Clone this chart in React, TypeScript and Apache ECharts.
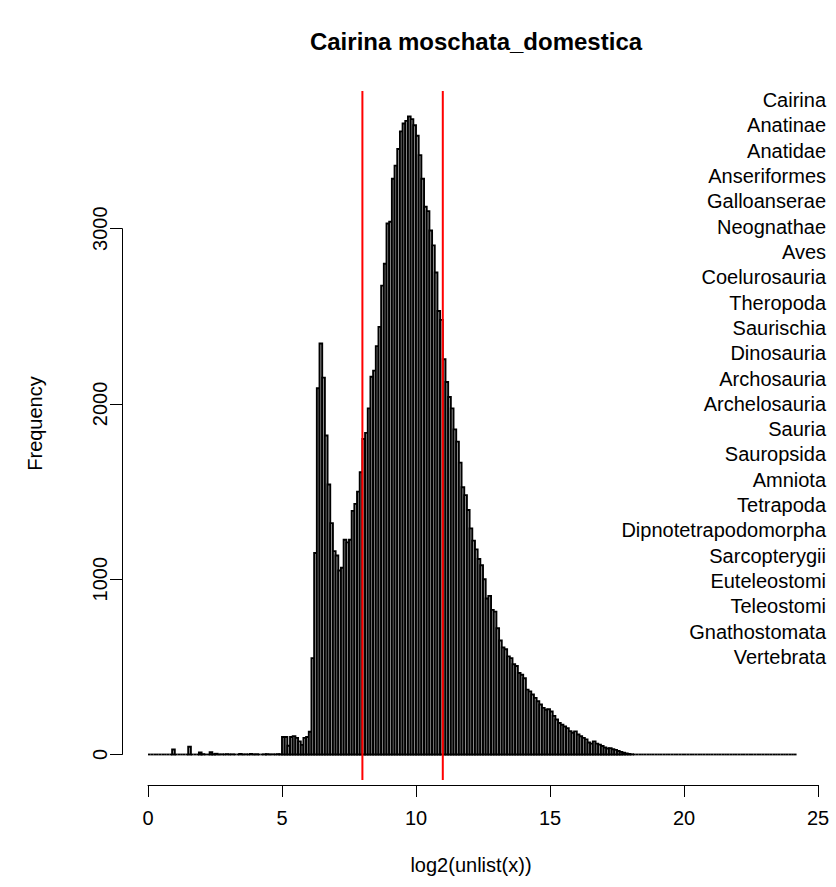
import React, { useEffect, useRef } from "react";
import * as echarts from "echarts";

// ---- data ----
const chartTitle = "Cairina moschata_domestica";
const xAxisTitle = "log2(unlist(x))";
const yAxisTitle = "Frequency";
const binStart = 0;
const binWidth = 0.1;
// histogram counts, one per 0.1-wide bin starting at 0
const counts = [
  0, 0, 0, 0, 0, 0, 0, 0, 0, 28,
  0, 0, 0, 0, 0, 44, 0, 0, 0, 11,
  2, 0, 0, 13, 2, 4, 0, 1, 0, 2,
  0, 1, 0, 0, 3, 0, 1, 0, 3, 0,
  1, 0, 0, 1, 2, 0, 1, 0, 2, 1,
  100, 100, 50, 100, 105, 95, 75, 55, 95, 100,
  130, 550, 1150, 2090, 2345, 2150, 1820, 1540, 1320, 1160,
  1135, 1050, 1065, 1225, 1210, 1225, 1390, 1430, 1500, 1610,
  1800, 1835, 1975, 2155, 2190, 2330, 2440, 2675, 2800, 3030,
  3040, 3285, 3360, 3455, 3555, 3600, 3615, 3640, 3625, 3590,
  3530, 3420, 3285, 3125, 3100, 2990, 2905, 2750, 2530, 2480,
  2255, 2125, 2040, 1975, 1855, 1785, 1665, 1525, 1480, 1395,
  1290, 1220, 1170, 1115, 1080, 1000, 890, 905, 825, 815,
  720, 650, 610, 600, 560, 550, 515, 505, 465, 455,
  435, 370, 360, 342, 323, 304, 285, 266, 255, 258,
  245, 220, 200, 180, 170, 160, 150, 133, 124, 132,
  114, 104, 95, 86, 68, 62, 75, 62, 56, 48,
  40, 34, 36, 30, 26, 20, 15, 10, 6, 3,
  1, 0, 0, 0, 0, 0, 0, 0, 0, 0,
  0, 0, 0, 0, 0, 0, 0, 0, 0, 0,
  0, 0, 0, 0, 0, 0, 0, 0, 0, 0,
  0, 0, 0, 0, 0, 0, 0, 0, 0, 0,
  0, 0, 0, 0, 0, 0, 0, 0, 0, 0,
  0, 0, 0, 0, 0, 0, 0, 0, 0, 0,
  0, 0,
];
const cutoffs = [8, 11];
const xTickMin = 0;
const xTickMax = 25;
const xTickStep = 5;
const yTickMin = 0;
const yTickMax = 3000;
const yTickStep = 1000;
const taxa = [
  "Cairina", "Anatinae", "Anatidae", "Anseriformes", "Galloanserae",
  "Neognathae", "Aves", "Coelurosauria", "Theropoda", "Saurischia",
  "Dinosauria", "Archosauria", "Archelosauria", "Sauria", "Sauropsida",
  "Amniota", "Tetrapoda", "Dipnotetrapodomorpha", "Sarcopterygii",
  "Euteleostomi", "Teleostomi", "Gnathostomata", "Vertebrata",
];

const FONT = "'Liberation Sans', Arial, Helvetica, sans-serif";

export default function App() {
  const ref = useRef<HTMLDivElement>(null);

  useEffect(() => {
    if (!ref.current) return;
    const chart = echarts.init(ref.current, undefined, { renderer: "svg" });

    const bins = counts.map((c, i) => [
      +(binStart + i * binWidth).toFixed(1),
      +(binStart + (i + 1) * binWidth).toFixed(1),
      c,
    ]);
    const maxCount = Math.max(...counts);

    // plot region (pixels)
    const plotLeft = 122;
    const plotTop = 91;
    const plotW = 698;
    const plotH = 689;
    const pxPerX = 26.8;
    const xMin = -(148 - plotLeft) / pxPerX;
    const xMax = xMin + plotW / pxPerX;
    const yMin = -0.04 * maxCount;
    const yMax = 1.04 * maxCount;
    const pxPerY = plotH / (yMax - yMin);

    const xAxisLeft = plotLeft + (xTickMin - xMin) * pxPerX;
    const xAxisWidth = (xTickMax - xTickMin) * pxPerX;
    const yAxisTop = plotTop + (yMax - yTickMax) * pxPerY;
    const yAxisHeight = (yTickMax - yTickMin) * pxPerY;

    const legendTop = 101;
    const legendStep = 25.32;

    chart.setOption({
      animation: false,
      backgroundColor: "#ffffff",
      title: {
        text: chartTitle,
        left: plotLeft + plotW / 2,
        top: 24,
        textAlign: "center",
        textStyle: { fontSize: 24, fontWeight: "bold", color: "#000", fontFamily: FONT },
      },
      grid: [
        { left: plotLeft, top: plotTop, width: plotW, height: plotH },
        { left: xAxisLeft, top: 700, width: xAxisWidth, height: 85 },
        { left: plotLeft, top: yAxisTop, width: 10, height: yAxisHeight },
      ],
      xAxis: [
        {
          gridIndex: 0, type: "value", min: xMin, max: xMax,
          axisLine: { show: false }, axisTick: { show: false },
          axisLabel: { show: false }, splitLine: { show: false },
          name: xAxisTitle, nameLocation: "middle", nameGap: 75,
          nameTextStyle: { fontSize: 20, color: "#000", fontFamily: FONT },
        },
        {
          gridIndex: 1, type: "value", min: xTickMin, max: xTickMax, interval: xTickStep,
          axisLine: { show: true, lineStyle: { color: "#000", width: 1 } },
          axisTick: { show: true, length: 12, lineStyle: { color: "#000", width: 1 } },
          axisLabel: { show: true, margin: 23, fontSize: 20, color: "#000", fontFamily: FONT },
          splitLine: { show: false },
        },
        { gridIndex: 2, type: "value", show: false, min: 0, max: 1 },
      ],
      yAxis: [
        {
          gridIndex: 0, type: "value", min: yMin, max: yMax,
          axisLine: { show: false }, axisTick: { show: false },
          axisLabel: { show: false }, splitLine: { show: false },
          name: yAxisTitle, nameLocation: "middle", nameGap: 77, nameRotate: 90,
          nameTextStyle: { fontSize: 20, color: "#000", fontFamily: FONT, padding: [0, 0, 0, 24] },
        },
        { gridIndex: 1, type: "value", show: false, min: 0, max: 1 },
        {
          gridIndex: 2, type: "value", min: yTickMin, max: yTickMax, interval: yTickStep,
          axisLine: { show: true, lineStyle: { color: "#000", width: 1 } },
          axisTick: { show: true, length: 12, lineStyle: { color: "#000", width: 1 } },
          axisLabel: {
            show: true, rotate: 90, margin: 12, fontSize: 20, color: "#000", fontFamily: FONT,
            formatter: (v: number) => String(v),
          },
          splitLine: { show: false },
        },
      ],
      series: [
        {
          type: "custom",
          xAxisIndex: 0,
          yAxisIndex: 0,
          encode: { x: [0, 1], y: 2 },
          data: bins,
          renderItem: (params: any, api: any) => {
            const x0 = api.value(0);
            const x1 = api.value(1);
            const c = api.value(2);
            const pTop = api.coord([x0, c]);
            const pBase = api.coord([x1, 0]);
            if (c <= 0) {
              return {
                type: "line",
                shape: { x1: pTop[0], y1: pBase[1], x2: pBase[0], y2: pBase[1] },
                style: { stroke: "#000", lineWidth: 1.8 },
              };
            }
            return {
              type: "rect",
              shape: { x: pTop[0], y: pTop[1], width: pBase[0] - pTop[0], height: pBase[1] - pTop[1] },
              style: { fill: "#b0b0b0", stroke: "#000", lineWidth: 1.9 },
            };
          },
        },
        ...cutoffs.map((v) => ({
          type: "line",
          xAxisIndex: 0,
          yAxisIndex: 0,
          data: [[v, yMin], [v, yMax]],
          symbol: "none",
          silent: true,
          lineStyle: { color: "#ff0000", width: 2 },
        })),
      ],
      graphic: taxa.map((t, i) => ({
        type: "text",
        right: 10,
        top: legendTop - 11 + i * legendStep,
        style: { text: t, fontSize: 20, fill: "#000", fontFamily: FONT },
      })),
    });

    return () => chart.dispose();
  }, []);

  return (
    <div
      ref={ref}
      style={{ position: "absolute", left: 0, top: 0, width: 836, height: 887 }}
    />
  );
}
